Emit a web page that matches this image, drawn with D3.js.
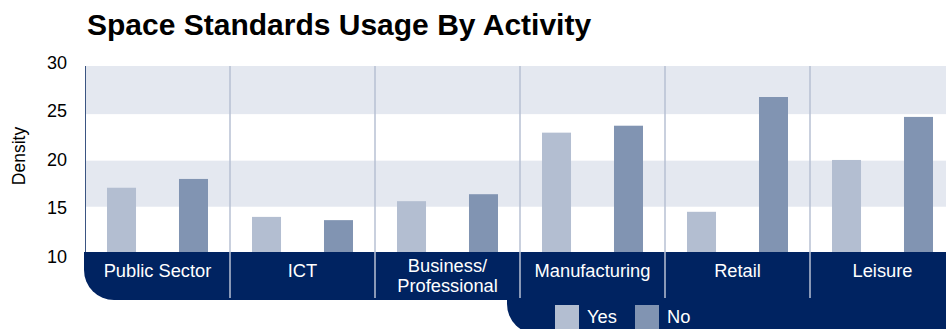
<!DOCTYPE html>
<html>
<head>
<meta charset="utf-8">
<script src="https://cdn.jsdelivr.net/npm/d3@7"></script>
<style>
  html, body { margin: 0; padding: 0; background: #fff; }
  svg { display: block; font-family: "Liberation Sans", Arial, sans-serif; }
</style>
</head>
<body>
<svg id="chart" width="946" height="329"></svg>
<script>
// Chart data
const categories = ["Public Sector", "ICT", "Business/\nProfessional", "Manufacturing", "Retail", "Leisure"];
const seriesNames = ["Yes", "No"];
const yesValues = [17.05, 13.9, 15.6, 23.0, 14.45, 20.05];
const noValues = [18.0, 13.55, 16.35, 23.75, 26.85, 24.7];
const tickValues = [10, 15, 20, 25, 30];
const bandStops = [[10, 15], [15, 20], [20, 25], [25, 30.2]];

const colors = { Yes: "#b3bed1", No: "#8194b2" };
const navy = "#002361";

const W = 946, H = 329;
const svg = d3.select("#chart");

const x = d3.scaleBand().domain(categories).range([85, 955]).padding(0);
const xInner = d3.scaleBand().domain(seriesNames).range([0, x.bandwidth()])
  .paddingInner(0.597).paddingOuter(0.3056);
const y = d3.scaleLinear().domain([10, 30.2]).range([253, 66]);
const yLabel = d3.scaleLinear().domain([10, 30]).range([256.5, 62.5]);

// Title
svg.append("text")
  .attr("x", 87).attr("y", 35)
  .attr("font-size", 30).attr("font-weight", "bold").attr("fill", "#000")
  .text("Space Standards Usage By Activity");

// Alternating background bands
svg.append("g").selectAll("rect")
  .data(bandStops)
  .join("rect")
  .attr("x", 85).attr("width", W - 85)
  .attr("y", d => y(d[1]))
  .attr("height", d => y(d[0]) - y(d[1]))
  .attr("fill", (d, i) => i % 2 === 1 || i === 3 ? "#e4e8f0" : "#ffffff");

// Bars
const rows = categories.map((c, i) => ({ cat: c, Yes: yesValues[i], No: noValues[i] }));
svg.append("g").selectAll("g")
  .data(rows)
  .join("g")
  .attr("transform", d => `translate(${x(d.cat)},0)`)
  .selectAll("rect")
  .data(d => seriesNames.map(s => ({ s, v: d[s] })))
  .join("rect")
  .attr("x", d => xInner(d.s))
  .attr("width", xInner.bandwidth())
  .attr("y", d => y(d.v))
  .attr("height", d => y(10) - y(d.v))
  .attr("fill", d => colors[d.s]);

// Legend panel (behind the category strip)
const legTop = 262, legLeft = 507, r2 = 30, legBottom = 334;
svg.append("path")
  .attr("d", `M${legLeft},${legTop} H${W} V${legBottom} H${legLeft + r2} A${r2},${r2} 0 0 1 ${legLeft},${legBottom - r2} Z`)
  .attr("fill", navy);

// Category strip
const stripTop = 252, stripBottom = 300, stripLeft = 84, r1 = 30;
svg.append("path")
  .attr("d", `M${stripLeft},${stripTop} H${W} V${stripBottom} H${stripLeft + r1} A${r1},${r1} 0 0 1 ${stripLeft},${stripBottom - r1} Z`)
  .attr("fill", navy);

// Category separators
svg.append("g").selectAll("line")
  .data(categories.slice(1))
  .join("line")
  .attr("x1", d => x(d)).attr("x2", d => x(d))
  .attr("y1", 66).attr("y2", 298)
  .attr("stroke", "#b7c1d3").attr("stroke-width", 1.5);

// Left axis line
svg.append("line")
  .attr("x1", 85.5).attr("x2", 85.5).attr("y1", 66).attr("y2", 252)
  .attr("stroke", "#3b5582").attr("stroke-width", 1);

// Category labels
const labels = svg.append("g").attr("fill", "#fff").attr("font-size", 18.3).attr("text-anchor", "middle");
categories.forEach(c => {
  const lines = c.split("\n");
  const t = labels.append("text").attr("x", x(c) + x.bandwidth() / 2);
  if (lines.length === 1) {
    t.attr("y", 276.5).text(c);
  } else {
    lines.forEach((ln, i) => {
      t.append("tspan").attr("x", x(c) + x.bandwidth() / 2).attr("y", 271.5 + i * 20).text(ln);
    });
  }
});

// Y tick labels
svg.append("g").selectAll("text")
  .data(tickValues)
  .join("text")
  .attr("x", 67).attr("y", d => yLabel(d))
  .attr("dy", "0.35em")
  .attr("text-anchor", "end").attr("font-size", 18).attr("fill", "#000")
  .text(d => d);

// Y axis title
svg.append("text")
  .attr("transform", "translate(19,156) rotate(-90)")
  .attr("text-anchor", "middle").attr("dy", "0.35em")
  .attr("font-size", 17.5).attr("fill", "#000")
  .text("Density");

// Legend
const legX = d3.scaleOrdinal().domain(seriesNames).range([555, 635]);
const leg = svg.append("g").selectAll("g").data(seriesNames).join("g")
  .attr("transform", d => `translate(${legX(d)},305)`);
leg.append("rect").attr("width", 24).attr("height", 26).attr("fill", d => colors[d]);
leg.append("text").attr("x", 32).attr("y", 17.5)
  .attr("font-size", 18.3).attr("fill", "#fff").text(d => d);
</script>
</body>
</html>
